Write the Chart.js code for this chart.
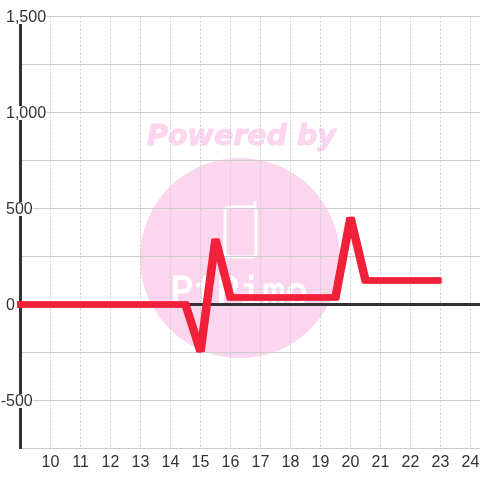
<!DOCTYPE html>
<html>
<head>
<meta charset="utf-8">
<style>html,body{margin:0;padding:0;background:#fff}canvas{display:block}</style>
<script src="https://cdn.jsdelivr.net/npm/chart.js@4"></script>
</head>
<body>
<canvas id="c" width="480" height="480"></canvas>
<script>
const hours = [8.5,9,9.5,10,10.5,11,11.5,12,12.5,13,13.5,14,14.5,15,15.5,16,16.5,17,17.5,18,18.5,19,19.5,20,20.5,21,21.5,22,22.5,23];
const usage = [0,0,0,0,0,0,0,0,0,0,0,0,0,-245,340,36,36,36,36,36,36,36,36,453,125,125,125,125,125,125];
const labelledY = [1500,1000,500,0,-500];
const hiddenX = [9];

const ink = '#333333';
const grey = '#cccccc';
const pink = '#fcd5ee';
const nibOffsets = [-1.25, 1.25, 0];

const watermark = {
  id: 'watermark',
  beforeDraw(chart) {
    const c = chart.ctx;
    c.save();
    c.fillStyle = pink;
    c.beginPath(); c.arc(240, 258, 100, 0, Math.PI * 2); c.fill();
    c.font = 'italic bold 28.5px "DejaVu Sans"';
    c.textAlign = 'center'; c.textBaseline = 'alphabetic';
    c.strokeStyle = pink; c.lineWidth = 1; c.lineJoin = 'round';
    c.fillText('Powered by', 241.5, 145);
    c.strokeText('Powered by', 241.5, 145);
    c.strokeStyle = '#ffffff'; c.lineWidth = 3;
    c.beginPath();
    c.roundRect(225, 207, 31, 50, 4);
    c.stroke();
    c.beginPath(); c.moveTo(255, 207); c.lineTo(255, 201); c.stroke();
    c.fillStyle = '#ffffff';
    c.font = '39px "DejaVu Sans Mono"';
    c.textAlign = 'left';
    c.letterSpacing = '-0.5px';
    c.lineWidth = 0.8;
    c.fillText('PfPimo', 170, 305);
    c.strokeText('PfPimo', 170, 305);
    c.restore();
  },
  afterUpdate(chart) {
    const c = chart.ctx;
    c.save();
    c.font = '16px "Liberation Sans"';
    const hang = c.measureText('-').width;
    c.restore();
    chart.scales.y.getLabelItems(chart.chartArea).forEach(item => {
      item.options.translation[1] += 1;
      if (item.options.backdrop) {
        item.options.backdrop.top = -7.5;
        item.options.backdrop.height = 14;
      }
      if (String(item.label).startsWith('-')) {
        item.options.translation[0] -= hang;
      }
    });
  },
  beforeDatasetsDraw(chart) {
    chart.ctx.miterLimit = 3;
    const ctrl = chart.getDatasetMeta(0).controller;
    if (!ctrl._nibbed) {
      const draw = ctrl.draw.bind(ctrl);
      ctrl.draw = () => {
        nibOffsets.forEach(dx => {
          chart.ctx.save();
          chart.ctx.translate(dx, 0);
          draw();
          chart.ctx.restore();
        });
      };
      ctrl._nibbed = true;
    }
  }
};

new Chart(document.getElementById('c'), {
  type: 'line',
  data: {
    datasets: [{
      data: hours.map((h, i) => ({ x: h, y: usage[i] })),
      borderColor: '#f02138',
      borderWidth: 6,
      borderJoinStyle: 'miter',
      borderCapStyle: 'butt',
      pointRadius: 0,
      tension: 0,
      fill: false,
      clip: { left: 3.5, right: 0, top: 0, bottom: 0 }
    }]
  },
  plugins: [watermark],
  options: {
    responsive: false,
    animation: false,
    layout: { padding: { top: 16.5, right: 0, left: 0, bottom: 0 } },
    plugins: { legend: { display: false }, tooltip: { enabled: false } },
    scales: {
      x: {
        type: 'linear',
        min: 9,
        max: 24.3167,
        afterFit(s) { s.height = 31.5; s.paddingLeft = 0; s.paddingRight = 0; },
        grid: { color: grey, lineWidth: 1, drawTicks: false },
        border: { display: false, dash: [2, 2] },
        ticks: {
          stepSize: 1,
          includeBounds: false,
          autoSkip: false,
          maxRotation: 0,
          padding: 4,
          color: ink,
          font: { family: '"Liberation Sans"', size: 16 },
          callback: v => hiddenX.includes(v) ? '' : String(v)
        }
      },
      y: {
        min: -750,
        max: 1500,
        afterFit(s) { s.width = 20.5; s.paddingTop = 0; s.paddingBottom = 0; },
        grid: {
          drawTicks: false,
          color: c => c.tick && c.tick.value === 0 ? ink : grey,
          lineWidth: c => c.tick && c.tick.value === 0 ? 3 : 1
        },
        border: { display: true, color: ink, width: 3 },
        ticks: {
          stepSize: 250,
          mirror: true,
          padding: -14.5,
          color: ink,
          font: { family: '"Liberation Sans"', size: 16 },
          showLabelBackdrop: true,
          backdropColor: c => labelledY.includes(c.tick.value) ? '#ffffff' : 'rgba(0,0,0,0)',
          backdropPadding: 0,
          callback: v => labelledY.includes(v) ? v.toLocaleString('en-US') : ''
        }
      }
    }
  }
});
</script>
</body>
</html>
